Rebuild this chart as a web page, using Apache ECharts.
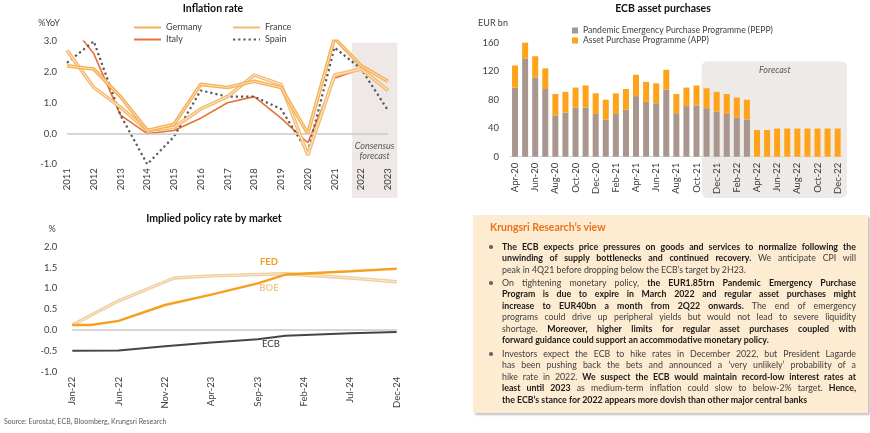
<!DOCTYPE html>
<html><head><meta charset="utf-8">
<script src="https://cdn.jsdelivr.net/npm/echarts/dist/echarts.min.js"></script>
<style>
html,body{margin:0;padding:0;background:#fff;}
#chart{position:absolute;left:0;top:0;width:870px;height:433px;}
#box{position:absolute;left:473px;top:215px;width:395px;height:198px;background:#FDEBD2;box-shadow:2px 2px 2px #c4c4c4;font-family:Lato,'Open Sans',sans-serif;color:#404040;}
#box .ttl{position:absolute;left:17px;top:6px;font-size:10.5px;font-weight:bold;color:#E8731A;line-height:13px;}
#box .para{position:absolute;left:29px;width:354px;font-size:8.8px;line-height:11.45px;}
#box .para div{text-align:justify;text-align-last:justify;white-space:nowrap;}
#box .para div.last{text-align-last:left;}
#box .para b{color:#1a1a1a;}
#box .dot{position:absolute;left:16px;width:3.5px;height:3.5px;border-radius:50%;background:#666;}
</style></head>
<body>
<div id="chart"></div>
<div id="box">
  <div class="ttl">Krungsri Research’s view</div>
  <div class="dot" style="top:30px"></div>
  <div class="para" style="top:26px">
    <div><b>The ECB expects price pressures on goods and services to normalize following the</b></div>
    <div><b>unwinding of supply bottlenecks and continued recovery.</b> We anticipate CPI will</div>
    <div class="last">peak in 4Q21 before dropping below the ECB’s target by 2H23.</div>
  </div>
  <div class="dot" style="top:66px"></div>
  <div class="para" style="top:62px">
    <div>On tightening monetary policy, <b>the EUR1.85trn Pandemic Emergency Purchase</b></div>
    <div><b>Program is due to expire in March 2022 and regular asset purchases might</b></div>
    <div><b>increase to EUR40bn a month from 2Q22 onwards.</b> The end of emergency</div>
    <div>programs could drive up peripheral yields but would not lead to severe liquidity</div>
    <div>shortage. <b>Moreover, higher limits for regular asset purchases coupled with</b></div>
    <div class="last"><b>forward guidance could support an accommodative monetary policy.</b></div>
  </div>
  <div class="dot" style="top:137px"></div>
  <div class="para" style="top:133px">
    <div>Investors expect the ECB to hike rates in December 2022, but President Lagarde</div>
    <div>has been pushing back the bets and announced a ‘very unlikely’ probability of a</div>
    <div>hike rate in 2022. <b>We suspect the ECB would maintain record-low interest rates at</b></div>
    <div><b>least until 2023</b> as medium-term inflation could slow to below-2% target. <b>Hence,</b></div>
    <div class="last"><b>the ECB’s stance for 2022 appears more dovish than other major central banks</b></div>
  </div>
</div>
<script>
// ---------- Inflation rate ----------
const years = [2011,2012,2013,2014,2015,2016,2017,2018,2019,2020,2021,2022,2023];
const germany = [2.2,2.1,1.2,0.1,0.3,1.6,1.5,1.7,1.5,0.0,3.1,2.2,1.7];
const france  = [2.7,1.5,0.85,0.1,0.2,0.8,1.2,1.9,1.6,-0.7,1.9,2.1,1.4];
const italy   = [3.7,2.6,0.6,0.0,0.1,0.5,1.0,1.2,0.5,-0.3,1.8,2.1,1.4];
const spain   = [2.3,3.0,0.6,-1.0,-0.1,1.4,1.2,1.2,0.8,-0.6,2.8,2.1,0.75];
const inflTicks = [-1,0,1,2,3];

// ---------- ECB asset purchases ----------
const months = ['Apr-20','May-20','Jun-20','Jul-20','Aug-20','Sep-20','Oct-20','Nov-20','Dec-20',
  'Jan-21','Feb-21','Mar-21','Apr-21','May-21','Jun-21','Jul-21','Aug-21','Sep-21','Oct-21','Nov-21','Dec-21',
  'Jan-22','Feb-22','Mar-22','Apr-22','May-22','Jun-22','Jul-22','Aug-22','Sep-22','Oct-22','Nov-22','Dec-22'];
const pepp = [97,138,111,95,58,62,69,69,60,52,60,66,85,77,75,94,61,71,72,68,63,60,55,52,'-','-','-','-','-','-','-','-','-'];
const app  = [31,23,30,29,30,29,28,31,29,28,29,29,30,28,28,28,27,26,28,28,28,28,28,28,37.5,37.5,39.5,39.5,39.5,39.5,39.5,39.5,39.5];

// ---------- Implied policy rate ----------
const rateMonths = ['Jan-22','Feb-22','Mar-22','Apr-22','May-22','Jun-22','Jul-22','Aug-22','Sep-22','Oct-22','Nov-22','Dec-22',
  'Jan-23','Feb-23','Mar-23','Apr-23','May-23','Jun-23','Jul-23','Aug-23','Sep-23','Oct-23','Nov-23','Dec-23',
  'Jan-24','Feb-24','Mar-24','Apr-24','May-24','Jun-24','Jul-24','Aug-24','Sep-24','Oct-24','Nov-24','Dec-24'];
const fed = [['Jan-22',0.12],['Mar-22',0.12],['Jun-22',0.22],['Nov-22',0.6],['Apr-23',0.85],['Sep-23',1.12],['Dec-23',1.33],['Jul-24',1.41],['Dec-24',1.47]];
const boe = [['Jan-22',0.12],['Jun-22',0.7],['Dec-22',1.25],['Apr-23',1.3],['Dec-23',1.35],['Jul-24',1.25],['Dec-24',1.16]];
const ecb = [['Jan-22',-0.5],['Jun-22',-0.49],['Nov-22',-0.39],['Apr-23',-0.3],['Sep-23',-0.22],['Dec-23',-0.14],['Jul-24',-0.08],['Dec-24',-0.05]];

const FONT = 'Lato, "Open Sans", sans-serif';
const TXT = '#404040';
const chart = echarts.init(document.getElementById('chart'));
const lbl = (extra) => Object.assign({color: TXT, fontFamily: FONT, fontSize: 9.5}, extra || {});
const zeroLine = {silent: true, symbol: 'none', label: {show: false},
  lineStyle: {color: '#C8C8C8', width: 1.5, type: 'solid'}, data: [{yAxis: 0}]};
const lineLegend = (name, left, top) => ({data: [name], left: left, top: top, padding: 0, itemWidth: 27, itemHeight: 8,
  itemStyle: {opacity: 0}, textStyle: lbl({fontSize: 9})});

const option = {
  animation: false,
  textStyle: {fontFamily: FONT},
  title: [
    {text: 'Inflation rate', left: 213, top: 3, textAlign: 'center', padding: 0, textStyle: {fontFamily: FONT, fontSize: 10.5, fontWeight: 'bold', color: '#111'}},
    {text: 'ECB asset purchases', left: 663, top: 3, textAlign: 'center', padding: 0, textStyle: {fontFamily: FONT, fontSize: 10.5, fontWeight: 'bold', color: '#111'}},
    {text: 'Implied policy rate by market', left: 214, top: 213, textAlign: 'center', padding: 0, textStyle: {fontFamily: FONT, fontSize: 10.5, fontWeight: 'bold', color: '#111'}}
  ],
  legend: [
    lineLegend('Germany', 133, 23),
    lineLegend('Italy', 133, 35),
    lineLegend('France', 232, 23),
    lineLegend('Spain', 232, 35),
    {data: ['Pandemic Emergency Purchase Programme (PEPP)', 'Asset Purchase Programme (APP)'], orient: 'vertical',
     left: 572, top: 26, padding: 0, itemGap: 1, icon: 'rect', itemWidth: 6, itemHeight: 6, textStyle: lbl({fontSize: 8.6})}
  ],
  grid: [
    {left: 67, top: 41.3, width: 321, height: 123},
    {left: 510, top: 42.7, width: 332.7, height: 114},
    {left: 72.3, top: 246.7, width: 324.4, height: 125}
  ],
  xAxis: [
    {gridIndex: 0, type: 'value', min: 2011, max: 2023, interval: 1, axisLine: {show: false}, axisTick: {show: false}, splitLine: {show: false},
     axisLabel: lbl({rotate: 90, margin: 4, formatter: v => String(v), showMinLabel: true, showMaxLabel: true})},
    {gridIndex: 1, type: 'category', data: months, boundaryGap: true, axisLine: {lineStyle: {color: '#D9D9D9', width: 1}}, axisTick: {show: false},
     axisLabel: lbl({rotate: 90, margin: 6, interval: 1})},
    {gridIndex: 2, type: 'category', data: rateMonths, boundaryGap: false, axisLine: {show: false}, axisTick: {show: false},
     axisLabel: lbl({rotate: 90, margin: 5, interval: 4})}
  ],
  yAxis: [
    {gridIndex: 0, type: 'value', min: inflTicks[0], max: inflTicks[inflTicks.length-1], interval: 1, splitLine: {show: false}, axisLine: {show: false}, axisTick: {show: false},
     axisLabel: lbl({margin: 10, formatter: v => v.toFixed(1)})},
    {gridIndex: 1, type: 'value', min: 0, max: 160, interval: 40, splitLine: {show: false}, axisLine: {show: false}, axisTick: {show: false},
     axisLabel: lbl({margin: 11})},
    {gridIndex: 2, type: 'value', min: -1, max: 2, interval: 0.5, splitLine: {show: false}, axisLine: {show: false}, axisTick: {show: false},
     axisLabel: lbl({margin: 15, formatter: v => v.toFixed(1)})}
  ],
  series: [
    {name: 'Italy', type: 'line', xAxisIndex: 0, yAxisIndex: 0, data: years.map((y,i)=>[y, italy[i]]), symbol: 'none', z: 3,
     lineStyle: {color: '#E97132', width: 1.6}, itemStyle: {color: '#E97132'}, markLine: zeroLine},
    {name: 'Spain', type: 'line', xAxisIndex: 0, yAxisIndex: 0, data: years.map((y,i)=>[y, spain[i]]), symbol: 'none', z: 4,
     lineStyle: {color: '#595959', width: 2.2, type: [2.2, 3]}, itemStyle: {color: '#595959'}},
    {name: 'France', type: 'line', xAxisIndex: 0, yAxisIndex: 0, data: years.map((y,i)=>[y, france[i]]), symbol: 'none', z: 5,
     lineStyle: {color: '#F4BB72', width: 3.6}, itemStyle: {color: '#F4BB72'}},
    {name: 'France ', type: 'line', xAxisIndex: 0, yAxisIndex: 0, data: years.map((y,i)=>[y, france[i]]), symbol: 'none', z: 6, silent: true,
     lineStyle: {color: '#FDEBD3', width: 1}},
    {name: 'Germany', type: 'line', xAxisIndex: 0, yAxisIndex: 0, data: years.map((y,i)=>[y, germany[i]]), symbol: 'none', z: 7,
     lineStyle: {color: '#F6B057', width: 3.6}, itemStyle: {color: '#F6B057'}},
    {name: 'Germany ', type: 'line', xAxisIndex: 0, yAxisIndex: 0, data: years.map((y,i)=>[y, germany[i]]), symbol: 'none', z: 8, silent: true,
     lineStyle: {color: '#FCE0B8', width: 1}},

    {name: 'Pandemic Emergency Purchase Programme (PEPP)', type: 'bar', xAxisIndex: 1, yAxisIndex: 1, stack: 'ecb', data: pepp, barWidth: 6,
     itemStyle: {color: '#A8968F'}},
    {name: 'Asset Purchase Programme (APP)', type: 'bar', xAxisIndex: 1, yAxisIndex: 1, stack: 'ecb', data: app, barWidth: 6,
     itemStyle: {color: '#FFA31A'}},

    {name: 'ECB', type: 'line', xAxisIndex: 2, yAxisIndex: 2, data: ecb, symbol: 'none', z: 3,
     lineStyle: {color: '#4B4244', width: 2}, markLine: zeroLine},
    {name: 'BOE', type: 'line', xAxisIndex: 2, yAxisIndex: 2, data: boe, symbol: 'none', z: 4,
     lineStyle: {color: '#EFCD9C', width: 3.4}},
    {name: 'BOE ', type: 'line', xAxisIndex: 2, yAxisIndex: 2, data: boe, symbol: 'none', z: 5, silent: true,
     lineStyle: {color: '#FBEBD6', width: 0.9}},
    {name: 'FED', type: 'line', xAxisIndex: 2, yAxisIndex: 2, data: fed, symbol: 'none', z: 6,
     lineStyle: {color: '#F6A01F', width: 2.5}}
  ]
};
chart.setOption(option);

// decorations placed through the library's scales
const xp = (ai, v) => chart.convertToPixel({xAxisIndex: ai}, v);
const yp = (ai, v) => chart.convertToPixel({yAxisIndex: ai}, v);
const sx0 = xp(0, 2021.65), sx1 = xp(0, 2023.35), sy0 = yp(0, 2.95);
const step = xp(1, 32) - xp(1, 31);
const fx0 = (xp(1, 18) + xp(1, 19)) / 2, fx1 = xp(1, 32) + step * 0.93, fy0 = yp(1, 134);
const txt = (x, y, text, st) => ({type: 'text', x: x, y: y, silent: true,
  style: Object.assign({text: text, fill: TXT, font: '9.5px ' + FONT, textAlign: 'center', textVerticalAlign: 'middle'}, st || {})});
chart.setOption({
  graphic: [
    {type: 'rect', z: -10, silent: true, shape: {x: sx0, y: sy0, width: sx1 - sx0, height: 198 - sy0}, style: {fill: '#EEE8E6'}},
    {type: 'rect', z: -10, silent: true, shape: {x: fx0, y: fy0, width: fx1 - fx0, height: 198 - fy0, r: 6}, style: {fill: '#EEEAE8'}},
    txt(xp(0, 2022.5), yp(0, -0.4), 'Consensus', {font: 'italic 9px ' + FONT, fill: '#595959'}),
    txt(xp(0, 2022.5), yp(0, -0.73), 'forecast', {font: 'italic 9px ' + FONT, fill: '#595959'}),
    txt((fx0 + fx1) / 2 + 0.5, yp(1, 121.5), 'Forecast', {font: 'italic 9px ' + FONT, fill: '#595959'}),
    txt(xp(2, 'Oct-23') + 2, yp(2, 1.63), 'FED', {font: 'bold 9.5px ' + FONT, fill: '#F39C1F'}),
    txt(xp(2, 'Oct-23') + 2, yp(2, 1.02), 'BOE', {font: 'bold 9.5px ' + FONT, fill: '#F2C98C'}),
    txt(xp(2, 'Oct-23') + 4, yp(2, -0.34), 'ECB', {font: '9.5px ' + FONT, fill: '#333'}),
    txt(49, 22.7, '%YoY', {font: '9px ' + FONT}),
    txt(493, 22.7, 'EUR bn', {font: '9px ' + FONT}),
    txt(52, 229, '%', {font: '9px ' + FONT}),
    txt(4, 422, 'Source: Eurostat, ECB, Bloomberg, Krungsri Research', {font: '7px ' + FONT, textAlign: 'left', fill: '#595959'})
  ]
});
</script>
</body></html>
